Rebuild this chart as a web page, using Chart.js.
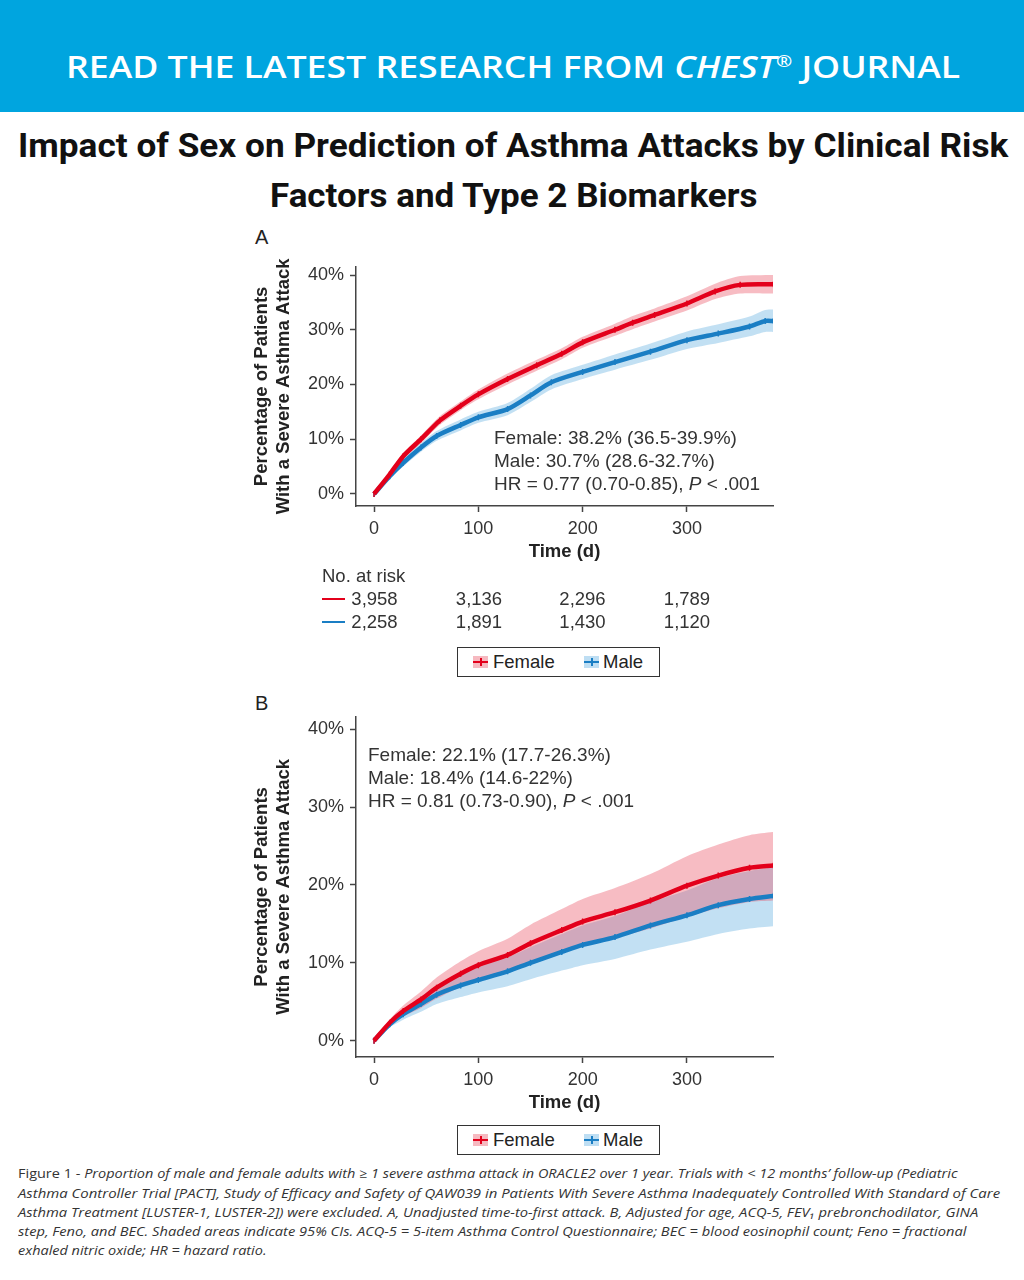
<!DOCTYPE html>
<html>
<head>
<meta charset="utf-8">
<script src="https://cdn.jsdelivr.net/npm/chart.js@4.4.1/dist/chart.umd.min.js"></script>
<style>
  body { margin: 0; width: 1024px; height: 1280px; position: relative; background: #fff; overflow: hidden;
         font-family: "Liberation Sans", Arial, sans-serif; color: #222; }
  .abs { position: absolute; white-space: nowrap; }
  #banner { position: absolute; left: 0; top: 0; width: 1024px; height: 112px; background: #00a5df; }
  #bannerText { left: 66px; top: 45px; font: 600 31px/42px "Open Sans", sans-serif; color: #fff; transform-origin: left center; }
  #bannerText sup { font-size: 17px; vertical-align: 0; position: relative; top: -11px; }
  .title { font: 700 34px/44px Roboto, sans-serif; color: #111; transform-origin: left center; }
  .panel { font: 20px/22px "Liberation Sans", Arial, sans-serif; color: #222; }
  .note { font: 19px/23px "Liberation Sans", Arial, sans-serif; color: #333; }
  .risk { font: 18.5px/22px "Liberation Sans", Arial, sans-serif; color: #333; }
  .legend { position: absolute; border: 1.5px solid #333; box-sizing: border-box; width: 203px; height: 30px;
            font: 18.5px/27px "Liberation Sans", Arial, sans-serif; color: #222; }
  .legend span { position: absolute; top: 0; }
  .sw { position: absolute; top: 8px; width: 15px; height: 12px; }
  .sw::before { content: ""; position: absolute; left: 0; right: 0; top: 5px; height: 2px; }
  .sw::after { content: ""; position: absolute; left: 7px; top: 2px; width: 1.5px; height: 8px; }
  .swF { background: rgba(232, 70, 90, 0.38); }
  .swF::before, .swF::after { background: #e3001b; }
  .swM { background: rgba(70, 160, 220, 0.35); }
  .swM::before, .swM::after { background: #1a7ec4; }
  .cap { font: italic 13px/19px "Open Sans", sans-serif; color: #333; transform-origin: left center; }
  canvas { position: absolute; }
</style>
</head>
<body>
<div id="banner"></div>
<div id="bannerText" class="abs">READ THE LATEST RESEARCH FROM <i>CHEST</i><sup>®</sup> JOURNAL</div>
<div id="title1" class="abs title" style="left:18px; top:123px;">Impact of Sex on Prediction of Asthma Attacks by Clinical Risk</div>
<div id="title2" class="abs title" style="left:270px; top:173px;">Factors and Type 2 Biomarkers</div>

<div class="abs panel" style="left:255px; top:226px;">A</div>
<canvas id="chartA" width="560" height="330" style="left:240px; top:250px;"></canvas>
<div class="abs note" style="left:494px; top:426px;">Female: 38.2% (36.5-39.9%)<br>Male: 30.7% (28.6-32.7%)<br>HR = 0.77 (0.70-0.85), <i>P</i> &lt; .001</div>

<div class="abs risk" style="left:322px; top:565px;">No. at risk</div>
<div class="abs" style="left:322px; top:598px; width:23px; height:2px; background:#e3001b;"></div>
<div class="abs" style="left:322px; top:621px; width:23px; height:2px; background:#1a7ec4;"></div>
<div id="riskRows"></div>

<div class="legend" style="left:457px; top:647px;">
  <div class="sw swF" style="left:15px;"></div><span style="left:35px;">Female</span>
  <div class="sw swM" style="left:126px;"></div><span style="left:145px;">Male</span>
</div>

<div class="abs panel" style="left:255px; top:692px;">B</div>
<canvas id="chartB" width="560" height="420" style="left:240px; top:700px;"></canvas>
<div class="abs note" style="left:368px; top:743px;">Female: 22.1% (17.7-26.3%)<br>Male: 18.4% (14.6-22%)<br>HR = 0.81 (0.73-0.90), <i>P</i> &lt; .001</div>

<div class="legend" style="left:457px; top:1125px;">
  <div class="sw swF" style="left:15px;"></div><span style="left:35px;">Female</span>
  <div class="sw swM" style="left:126px;"></div><span style="left:145px;">Male</span>
</div>

<div id="cap1" class="abs cap" style="left:18px; top:1164px;"><span style="font-style:normal">Figure 1 - </span>Proportion of male and female adults with ≥ 1 severe asthma attack in ORACLE2 over 1 year. Trials with &lt; 12 months’ follow-up (Pediatric</div>
<div id="cap2" class="abs cap" style="left:18px; top:1184px;">Asthma Controller Trial [PACT], Study of Efficacy and Safety of QAW039 in Patients With Severe Asthma Inadequately Controlled With Standard of Care</div>
<div id="cap3" class="abs cap" style="left:18px; top:1203px;">Asthma Treatment [LUSTER-1, LUSTER-2]) were excluded. A, Unadjusted time-to-first attack. B, Adjusted for age, ACQ-5, FEV₁ prebronchodilator, GINA</div>
<div id="cap4" class="abs cap" style="left:18px; top:1222px;">step, Feno, and BEC. Shaded areas indicate 95% CIs. ACQ-5 = 5-item Asthma Control Questionnaire; BEC = blood eosinophil count; Feno = fractional</div>
<div id="cap5" class="abs cap" style="left:18px; top:1241px;">exhaled nitric oxide; HR = hazard ratio.</div>

<script>
// Panel A: unadjusted cumulative incidence (%).
const daysFemaleA = [0, 15, 28, 45, 63, 83, 100, 128, 156, 180, 200, 231, 248, 269, 300, 327, 351, 383];
const femaleA     = [0, 3.6, 6.9, 10, 13.4, 16.1, 18.2, 21, 23.5, 25.6, 27.7, 30.0, 31.3, 32.7, 34.8, 37, 38.2, 38.3];
const femaleALo   = [0, 3.1, 6.3, 9.3, 12.6, 15.3, 17.3, 20.0, 22.5, 24.6, 26.7, 28.9, 30.1, 31.5, 33.5, 35.6, 36.6, 36.6];
const femaleAHi   = [0, 4.1, 7.5, 10.7, 14.2, 16.9, 19.1, 22.0, 24.5, 26.6, 28.7, 31.1, 32.5, 33.9, 36.1, 38.4, 39.8, 40.0];

const daysMaleA = [0, 15, 28, 45, 60, 83, 100, 128, 150, 170, 200, 231, 265, 300, 330, 360, 375, 383];
const maleA     = [0, 3.25, 5.7, 8.5, 10.6, 12.6, 14, 15.5, 18, 20.4, 22.3, 24.1, 26, 28.1, 29.3, 30.6, 31.6, 31.6];
const maleALo   = [0, 2.7, 5.0, 7.7, 9.7, 11.6, 13.0, 14.4, 16.8, 19.1, 21.0, 22.7, 24.5, 26.5, 27.6, 28.8, 29.6, 29.6];
const maleAHi   = [0, 3.8, 6.4, 9.3, 11.5, 13.6, 15.0, 16.6, 19.2, 21.7, 23.6, 25.5, 27.5, 29.7, 31.0, 32.4, 33.6, 33.7];

// Panel B: adjusted cumulative incidence (%).
const daysB    = [0, 15, 28, 45, 60, 83, 100, 128, 150, 180, 200, 231, 265, 300, 330, 360, 383];
const femaleB   = [0, 2.3, 3.8, 5.3, 6.8, 8.6, 9.7, 11.0, 12.5, 14.2, 15.3, 16.5, 18.0, 19.9, 21.2, 22.2, 22.5];
const femaleBLo = [0, 1.9, 3.1, 4.2, 5.4, 6.9, 7.8, 8.8, 10.0, 11.4, 12.2, 13.2, 14.4, 15.9, 17.0, 17.8, 18.0];
const femaleBHi = [0, 2.7, 4.5, 6.3, 8.1, 10.2, 11.5, 13.1, 14.9, 16.9, 18.2, 19.6, 21.4, 23.7, 25.2, 26.4, 26.8];
const maleB     = [0, 2.1, 3.4, 4.7, 5.9, 7.1, 7.8, 8.9, 10.0, 11.4, 12.3, 13.3, 14.8, 16.1, 17.4, 18.2, 18.6];
const maleBLo   = [0, 1.7, 2.7, 3.7, 4.7, 5.6, 6.2, 7.0, 7.9, 9.0, 9.7, 10.5, 11.7, 12.7, 13.7, 14.4, 14.7];
const maleBHi   = [0, 2.5, 4.1, 5.6, 7.1, 8.5, 9.4, 10.7, 12.0, 13.7, 14.8, 16.0, 17.8, 19.3, 20.9, 21.8, 22.3];

// Axis ticks and number-at-risk table.
const xTicks = [0, 100, 200, 300];
const yTicks = [0, 10, 20, 30, 40];
const riskFemale = ["3,958", "3,136", "2,296", "1,789"];
const riskMale   = ["2,258", "1,891", "1,430", "1,120"];

const RED = "#e3001b";
const BLUE = "#1a7ec4";
const PINK_BAND = "rgba(232, 70, 90, 0.36)";
const BLUE_BAND = "rgba(70, 160, 220, 0.33)";
const AXIS = "#444";
const tickFont = { family: "'Liberation Sans', Arial, sans-serif", size: 18 };
const titleFont = { family: "'Liberation Sans', Arial, sans-serif", size: 18.5, weight: "bold" };

function pts(days, vals) {
  return days.map((d, i) => ({ x: d, y: vals[i] }));
}

function lineSet(label, days, vals, color) {
  return {
    label, data: pts(days, vals), borderColor: color, backgroundColor: color,
    borderWidth: 4.5, tension: 0.25, fill: false, order: 0,
    pointStyle: "line", rotation: 90, pointRadius: 3, pointBorderWidth: 1.5, pointBorderColor: color
  };
}

function bandSets(days, lo, hi, color, order) {
  return [
    { data: pts(days, hi), borderWidth: 0, pointRadius: 0, tension: 0.25, fill: "+1", backgroundColor: color, order },
    { data: pts(days, lo), borderWidth: 0, pointRadius: 0, tension: 0.25, fill: false, backgroundColor: color, order }
  ];
}

function makeChart(id, datasets, opts) {
  return new Chart(document.getElementById(id), {
    type: "line",
    data: { datasets },
    options: {
      responsive: false, animation: false, events: [],
      layout: { padding: { top: opts.padTop, right: 27, left: 0, bottom: 0 } },
      plugins: { legend: { display: false }, tooltip: { enabled: false } },
      scales: {
        x: {
          type: "linear", min: -17.3, max: 382.5,
          afterBuildTicks: axis => { axis.ticks = xTicks.map(v => ({ value: v })); },
          afterFit: scale => { scale.height = opts.xHeight; },
          grid: { drawOnChartArea: false, drawTicks: true, tickLength: 6, tickColor: AXIS, tickWidth: 1.5 },
          border: { display: true, color: AXIS, width: 1.5 },
          ticks: { font: tickFont, color: "#333", padding: 6, maxRotation: 0 },
          title: { display: true, text: "Time (d)", font: titleFont, color: "#222", padding: { top: 0, bottom: opts.xTitlePad } }
        },
        y: {
          min: opts.yMin, max: opts.yMax,
          afterBuildTicks: axis => { axis.ticks = yTicks.map(v => ({ value: v })); },
          afterFit: scale => { scale.width = 116; },
          grid: { drawOnChartArea: false, drawTicks: true, tickLength: 6, tickColor: AXIS, tickWidth: 1.5 },
          border: { display: true, color: AXIS, width: 1.5 },
          ticks: { font: tickFont, color: "#333", padding: 6, callback: v => v + "%" },
          title: { display: true, text: ["Percentage of Patients", "With a Severe Asthma Attack"],
                   font: titleFont, color: "#222", padding: { top: 10.5, bottom: 0 } }
        }
      }
    }
  });
}

makeChart("chartA", [
  lineSet("Female", daysFemaleA, femaleA, RED),
  lineSet("Male", daysMaleA, maleA, BLUE),
  ...bandSets(daysFemaleA, femaleALo, femaleAHi, PINK_BAND, 1),
  ...bandSets(daysMaleA, maleALo, maleAHi, BLUE_BAND, 2)
], { padTop: 16, xHeight: 74, xTitlePad: 17, yMin: -2.2, yMax: 41.5 });

makeChart("chartB", [
  lineSet("Female", daysB, femaleB, RED),
  lineSet("Male", daysB, maleB, BLUE),
  ...bandSets(daysB, femaleBLo, femaleBHi, PINK_BAND, 1),
  ...bandSets(daysB, maleBLo, maleBHi, BLUE_BAND, 2)
], { padTop: 12, xHeight: 63, xTitlePad: 6, yMin: -2.1, yMax: 41.6 });

// Number at risk, centred under the x ticks of panel A.
const riskX = [374.5, 479, 582.5, 687];
const riskBox = document.getElementById("riskRows");
[[riskFemale, 588], [riskMale, 611]].forEach(([row, top]) => {
  row.forEach((txt, i) => {
    const d = document.createElement("div");
    d.className = "abs risk";
    d.textContent = txt;
    d.style.top = top + "px";
    d.style.left = (riskX[i] - 100) + "px";
    d.style.width = "200px";
    d.style.textAlign = "center";
    riskBox.appendChild(d);
  });
});

// Squeeze the condensed-looking text lines to the widths seen in the figure.
function fitWidth(id, w) {
  const el = document.getElementById(id);
  el.style.transform = "scaleX(" + (w / el.offsetWidth) + ")";
}
fitWidth("bannerText", 894);
fitWidth("title1", 990);
fitWidth("title2", 487);
fitWidth("cap1", 940);
fitWidth("cap2", 982);
fitWidth("cap3", 960);
fitWidth("cap4", 948);
fitWidth("cap5", 248);
</script>
</body>
</html>
